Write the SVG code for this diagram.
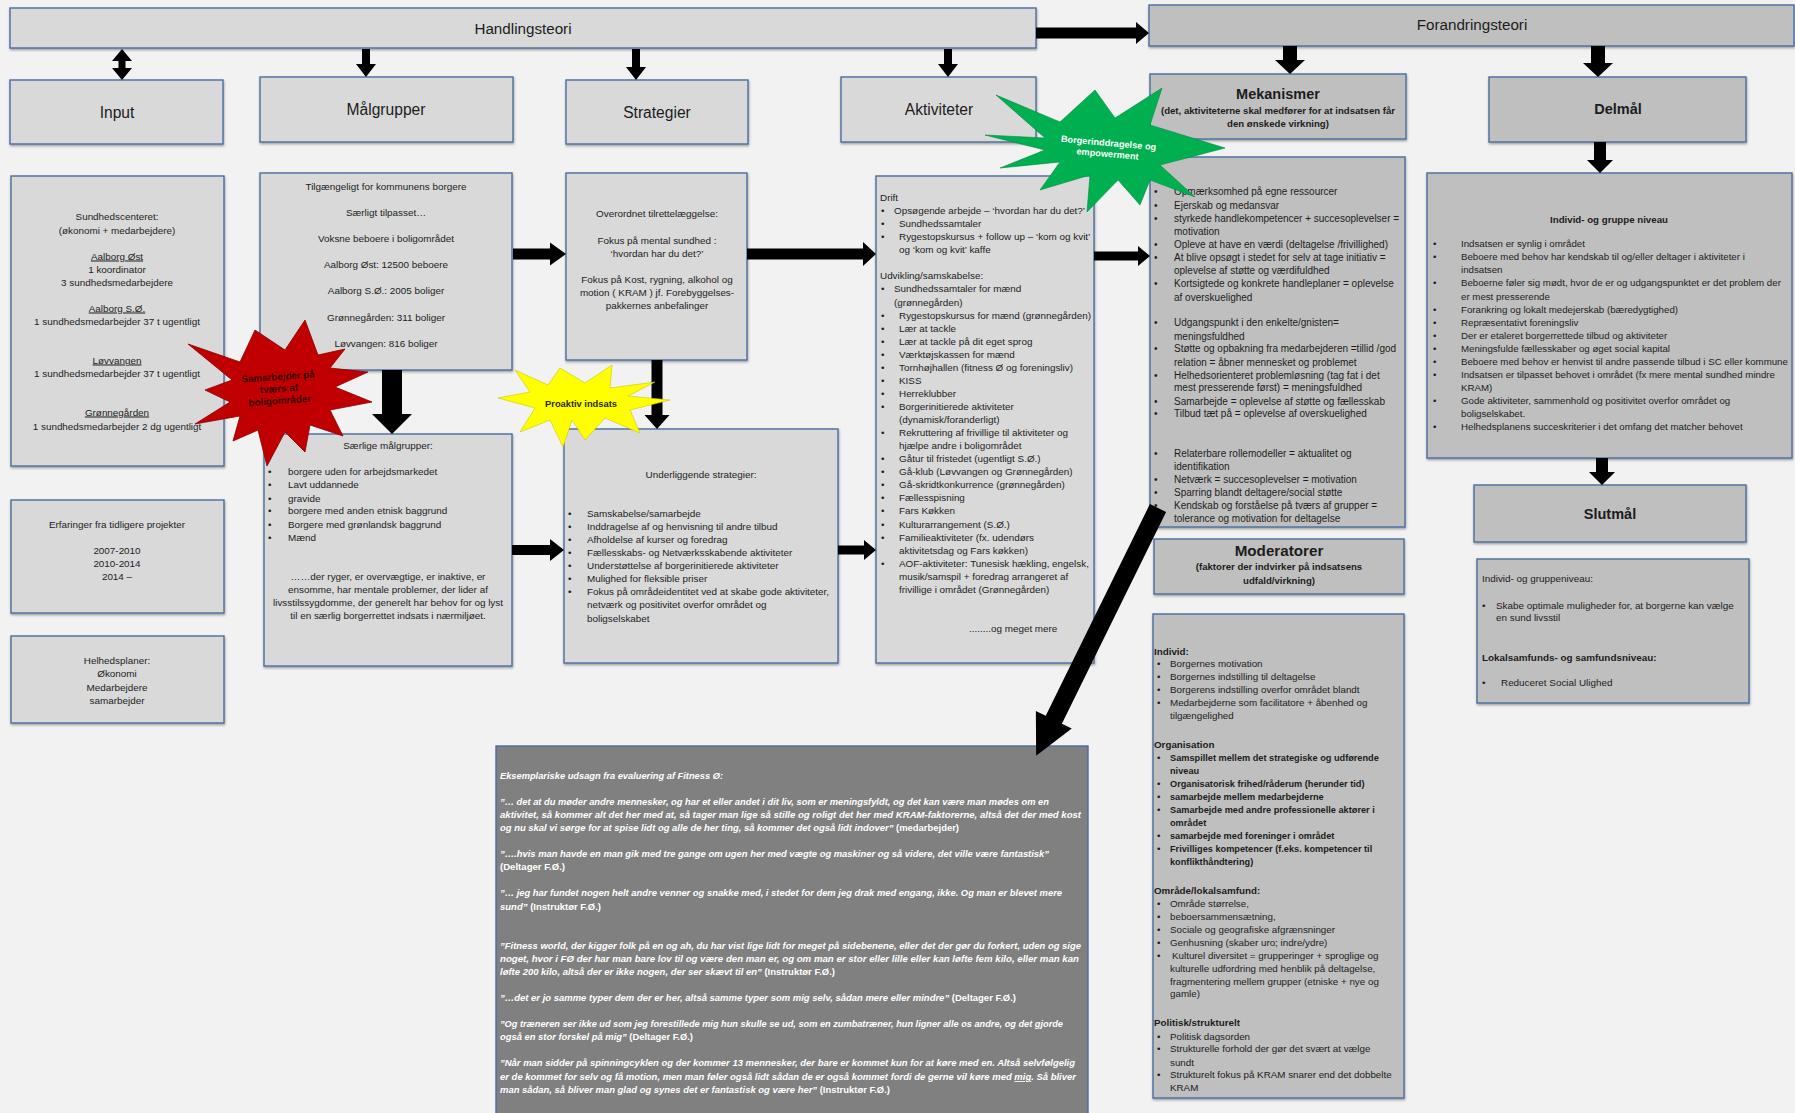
<svg xmlns="http://www.w3.org/2000/svg" width="1795" height="1113" viewBox="0 0 1795 1113">
<defs>
<filter id="sh" x="-5%" y="-5%" width="110%" height="115%"><feDropShadow dx="0.5" dy="1.5" stdDeviation="0.8" flood-color="#000" flood-opacity="0.35"/></filter>
</defs>
<style>
.lb{fill:#d9d9d9;stroke:#4a6d9e;stroke-width:1.4;filter:url(#sh)}
.db{fill:#bfbfbf;stroke:#4a6d9e;stroke-width:1.4;filter:url(#sh)}
.qb{fill:#808080;stroke:#4a6d9e;stroke-width:1.4}
text{font-family:"Liberation Sans",Arial,sans-serif;fill:#1c1c1c}
.t{font-size:9.9px}
#delmal-detail .t{font-size:9.7px}
#mekanismer-detail .t{font-size:10px}
#moderatorer-detail .t{font-size:9.8px}
#moderatorer-detail .bb{font-size:9.2px}
.c{text-anchor:middle}
.b{font-weight:bold}
.h{font-size:15.2px}
.lab{font-size:15.6px}
.sub{font-size:9.6px;font-weight:bold}
.u{text-decoration:underline}
.q{font-size:8.6px;font-weight:bold;font-style:italic;fill:#fff}
.qn{font-style:normal}
.ar{fill:#000}
</style>
<rect width="1795" height="1113" fill="#f2f2f2"/>

<g id="handlingsteori"><rect class="lb" x="10" y="8" width="1026" height="40"/><text class="h c" x="523" y="34">Handlingsteori</text></g>
<g id="forandringsteori"><rect class="db" x="1149" y="5" width="645" height="41"/><text class="h c" x="1472" y="30">Forandringsteori</text></g>

<g id="input"><rect class="lb" x="10" y="80" width="213" height="64"/><text class="lab c" x="117" y="118">Input</text></g>
<g id="malgrupper"><rect class="lb" x="260" y="77" width="253" height="65"/><text class="lab c" x="386" y="115">Målgrupper</text></g>
<g id="strategier"><rect class="lb" x="566" y="80" width="182" height="64"/><text class="lab c" x="657" y="118">Strategier</text></g>
<g id="aktiviteter"><rect class="lb" x="841" y="77" width="195" height="65"/><text class="lab c" x="939" y="115">Aktiviteter</text></g>
<g id="mekanismer"><rect class="db" x="1150" y="74" width="256" height="65"/><text class="c b" x="1278" y="99" style="font-size:14.5px">Mekanismer</text>
<text class="c sub" x="1278" y="114">(det, aktiviteterne skal medfører for at indsatsen får</text>
<text class="c sub" x="1278" y="127">den ønskede virkning)</text></g>
<g id="delmal"><rect class="db" x="1489" y="77" width="257" height="65"/><text class="c b" x="1618" y="114" style="font-size:14.5px">Delmål</text></g>

<g id="input-detail"><rect class="lb" x="11" y="176" width="213" height="290"/>
<text class="t c" x="117" y="219.5">Sundhedscenteret:</text>
<text class="t c" x="117" y="233.5">(økonomi + medarbejdere)</text>
<text class="t c u" x="117" y="259.5">Aalborg Øst</text>
<text class="t c" x="117" y="272.5">1 koordinator</text>
<text class="t c" x="117" y="285.5">3 sundhedsmedarbejdere</text>
<text class="t c u" x="117" y="311.5">Aalborg S.Ø.</text>
<text class="t c" x="117" y="324.5">1 sundhedsmedarbejder 37 t ugentligt</text>
<text class="t c u" x="117" y="363.5">Løvvangen</text>
<text class="t c" x="117" y="376.5">1 sundhedsmedarbejder 37 t ugentligt</text>
<text class="t c u" x="117" y="415.5">Grønnegården</text>
<text class="t c" x="117" y="429.5">1 sundhedsmedarbejder 2 dg ugentligt</text>
</g>
<g id="erfaringer"><rect class="lb" x="11" y="500" width="213" height="113"/>
<text class="t c" x="117" y="527.5">Erfaringer fra tidligere projekter</text>
<text class="t c" x="117" y="553.5">2007-2010</text>
<text class="t c" x="117" y="566.5">2010-2014</text>
<text class="t c" x="117" y="579.5">2014 –</text>
</g>
<g id="helhedsplaner"><rect class="lb" x="11" y="636" width="213" height="87"/>
<text class="t c" x="117" y="663.5">Helhedsplaner:</text>
<text class="t c" x="117" y="677">Økonomi</text>
<text class="t c" x="117" y="690.5">Medarbejdere</text>
<text class="t c" x="117" y="703.5">samarbejder</text>
</g>

<g id="malgrupper-detail"><rect class="lb" x="260" y="173" width="252" height="197"/>
<text class="t c" x="386" y="190">Tilgængeligt for kommunens borgere</text>
<text class="t c" x="386" y="216">Særligt tilpasset…</text>
<text class="t c" x="386" y="242">Voksne beboere i boligområdet</text>
<text class="t c" x="386" y="268">Aalborg Øst: 12500 beboere</text>
<text class="t c" x="386" y="294">Aalborg S.Ø.: 2005 boliger</text>
<text class="t c" x="386" y="321">Grønnegården: 311 boliger</text>
<text class="t c" x="386" y="347">Løvvangen: 816 boliger</text>
</g>
<g id="saerlige-malgrupper"><rect class="lb" x="264" y="434" width="248" height="232"/>
<text class="t c" x="388" y="449">Særlige målgrupper:</text>
<text class="t" x="268" y="475">•</text><text class="t" x="288" y="475">borgere uden for arbejdsmarkedet</text>
<text class="t" x="268" y="488">•</text><text class="t" x="288" y="488">Lavt uddannede</text>
<text class="t" x="268" y="502">•</text><text class="t" x="288" y="502">gravide</text>
<text class="t" x="268" y="514">•</text><text class="t" x="288" y="514">borgere med anden etnisk baggrund</text>
<text class="t" x="268" y="528">•</text><text class="t" x="288" y="528">Borgere med grønlandsk baggrund</text>
<text class="t" x="268" y="541">•</text><text class="t" x="288" y="541">Mænd</text>
<text class="t c" x="388" y="580">……der ryger, er overvægtige, er inaktive, er</text>
<text class="t c" x="388" y="593">ensomme, har mentale problemer, der lider af</text>
<text class="t c" x="388" y="606">livsstilssygdomme, der generelt har behov for og lyst</text>
<text class="t c" x="388" y="619">til en særlig borgerrettet indsats i nærmiljøet.</text>
</g>

<g id="strategier-detail"><rect class="lb" x="566" y="173" width="181" height="187"/>
<text class="t c" x="657" y="217">Overordnet tilrettelæggelse:</text>
<text class="t c" x="657" y="244">Fokus på mental sundhed :</text>
<text class="t c" x="657" y="257">‘hvordan har du det?’</text>
<text class="t c" x="657" y="283">Fokus på Kost, rygning, alkohol og</text>
<text class="t c" x="657" y="296">motion ( KRAM ) jf. Forebyggelses-</text>
<text class="t c" x="657" y="309">pakkernes anbefalinger</text>
</g>
<g id="underliggende-strategier"><rect class="lb" x="564" y="429" width="274" height="234"/>
<text class="t c" x="701" y="478">Underliggende strategier:</text>
<text class="t" x="568" y="517">•</text><text class="t" x="587" y="517">Samskabelse/samarbejde</text>
<text class="t" x="568" y="530">•</text><text class="t" x="587" y="530">Inddragelse af og henvisning til andre tilbud</text>
<text class="t" x="568" y="543">•</text><text class="t" x="587" y="543">Afholdelse af kurser og foredrag</text>
<text class="t" x="568" y="556">•</text><text class="t" x="587" y="556">Fællesskabs- og Netværksskabende aktiviteter</text>
<text class="t" x="568" y="569">•</text><text class="t" x="587" y="569">Understøttelse af borgerinitierede aktiviteter</text>
<text class="t" x="568" y="582">•</text><text class="t" x="587" y="582">Mulighed for fleksible priser</text>
<text class="t" x="568" y="595">•</text><text class="t" x="587" y="595">Fokus på områdeidentitet ved at skabe gode aktiviteter,</text>
<text class="t" x="587" y="608">netværk og positivitet overfor området og</text>
<text class="t" x="587" y="622">boligselskabet</text>
</g>

<g id="aktiviteter-detail"><rect class="lb" x="876" y="176" width="218" height="487"/>
<text class="t" x="880" y="201">Drift</text>
<text class="t" x="881" y="214">•</text><text class="t" x="894" y="214">Opsøgende arbejde – ‘hvordan har du det?’</text>
<text class="t" x="881" y="227">•</text><text class="t" x="899" y="227">Sundhedssamtaler</text>
<text class="t" x="881" y="240">•</text><text class="t" x="899" y="240">Rygestopskursus + follow up – ‘kom og kvit’</text>
<text class="t" x="899" y="253">og ‘kom og kvit’ kaffe</text>
<text class="t" x="880" y="279">Udvikling/samskabelse:</text>
<text class="t" x="881" y="292">•</text><text class="t" x="894" y="292">Sundhedssamtaler for mænd</text>
<text class="t" x="894" y="306">(grønnegården)</text>
<text class="t" x="881" y="319">•</text><text class="t" x="899" y="319">Rygestopskursus for mænd (grønnegården)</text>
<text class="t" x="881" y="332">•</text><text class="t" x="899" y="332">Lær at tackle</text>
<text class="t" x="881" y="345">•</text><text class="t" x="899" y="345">Lær at tackle på dit eget sprog</text>
<text class="t" x="881" y="358">•</text><text class="t" x="899" y="358">Værktøjskassen for mænd</text>
<text class="t" x="881" y="371">•</text><text class="t" x="899" y="371">Tornhøjhallen (fitness Ø og foreningsliv)</text>
<text class="t" x="881" y="384">•</text><text class="t" x="899" y="384">KISS</text>
<text class="t" x="881" y="397">•</text><text class="t" x="899" y="397">Herreklubber</text>
<text class="t" x="881" y="410">•</text><text class="t" x="899" y="410">Borgerinitierede aktiviteter</text>
<text class="t" x="899" y="423">(dynamisk/foranderligt)</text>
<text class="t" x="881" y="436">•</text><text class="t" x="899" y="436">Rekruttering af frivillige til aktiviteter og</text>
<text class="t" x="899" y="449">hjælpe andre i boligområdet</text>
<text class="t" x="881" y="462">•</text><text class="t" x="899" y="462">Gåtur til fristedet (ugentligt S.Ø.)</text>
<text class="t" x="881" y="475">•</text><text class="t" x="899" y="475">Gå-klub (Løvvangen og Grønnegården)</text>
<text class="t" x="881" y="488">•</text><text class="t" x="899" y="488">Gå-skridtkonkurrence (grønnegården)</text>
<text class="t" x="881" y="501">•</text><text class="t" x="899" y="501">Fællesspisning</text>
<text class="t" x="881" y="514">•</text><text class="t" x="899" y="514">Fars Køkken</text>
<text class="t" x="881" y="528">•</text><text class="t" x="899" y="528">Kulturarrangement (S.Ø.)</text>
<text class="t" x="881" y="541">•</text><text class="t" x="899" y="541">Familieaktiviteter (fx. udendørs</text>
<text class="t" x="899" y="554">aktivitetsdag og Fars køkken)</text>
<text class="t" x="881" y="567">•</text><text class="t" x="899" y="567">AOF-aktiviteter: Tunesisk hækling, engelsk,</text>
<text class="t" x="899" y="580">musik/samspil + foredrag arrangeret af</text>
<text class="t" x="899" y="593">frivillige i området (Grønnegården)</text>
<text class="t" x="969" y="632">........og meget mere</text>
</g>

<g id="mekanismer-detail"><rect class="db" x="1150" y="157" width="255" height="370"/>
<text class="t" x="1154" y="195">•</text><text class="t" x="1174" y="195">Opmærksomhed på egne ressourcer</text>
<text class="t" x="1154" y="209">•</text><text class="t" x="1174" y="209">Ejerskab og medansvar</text>
<text class="t" x="1154" y="222">•</text><text class="t" x="1174" y="222">styrkede handlekompetencer + succesoplevelser =</text>
<text class="t" x="1174" y="235">motivation</text>
<text class="t" x="1154" y="248">•</text><text class="t" x="1174" y="248">Opleve at have en værdi (deltagelse /frivillighed)</text>
<text class="t" x="1154" y="261">•</text><text class="t" x="1174" y="261">At blive opsøgt i stedet for selv at tage initiativ =</text>
<text class="t" x="1174" y="274">oplevelse af støtte og værdifuldhed</text>
<text class="t" x="1154" y="287">•</text><text class="t" x="1174" y="287">Kortsigtede og konkrete handleplaner = oplevelse</text>
<text class="t" x="1174" y="301">af overskuelighed</text>
<text class="t" x="1154" y="326">•</text><text class="t" x="1174" y="326">Udgangspunkt i den enkelte/gnisten=</text>
<text class="t" x="1174" y="340">meningsfuldhed</text>
<text class="t" x="1154" y="352">•</text><text class="t" x="1174" y="352">Støtte og opbakning fra medarbejderen =tillid /god</text>
<text class="t" x="1174" y="366">relation = åbner mennesket og problemet</text>
<text class="t" x="1154" y="379">•</text><text class="t" x="1174" y="379">Helhedsorienteret problemløsning (tag fat i det</text>
<text class="t" x="1174" y="391">mest presserende først) = meningsfuldhed</text>
<text class="t" x="1154" y="405">•</text><text class="t" x="1174" y="405">Samarbejde = oplevelse af støtte og fællesskab</text>
<text class="t" x="1154" y="417">•</text><text class="t" x="1174" y="417">Tilbud tæt på = oplevelse af overskuelighed</text>
<text class="t" x="1154" y="457">•</text><text class="t" x="1174" y="457">Relaterbare rollemodeller = aktualitet og</text>
<text class="t" x="1174" y="470">identifikation</text>
<text class="t" x="1154" y="483">•</text><text class="t" x="1174" y="483">Netværk = succesoplevelser = motivation</text>
<text class="t" x="1154" y="496">•</text><text class="t" x="1174" y="496">Sparring blandt deltagere/social støtte</text>
<text class="t" x="1154" y="509">•</text><text class="t" x="1174" y="509">Kendskab og forståelse på tværs af grupper =</text>
<text class="t" x="1174" y="522">tolerance og motivation for deltagelse</text>
</g>

<g id="moderatorer"><rect class="db" x="1154" y="539" width="250" height="55"/>
<text class="c b" x="1279" y="556" style="font-size:15.2px">Moderatorer</text>
<text class="c sub" x="1279" y="570">(faktorer der indvirker på indsatsens</text>
<text class="c sub" x="1279" y="584">udfald/virkning)</text>
</g>
<g id="moderatorer-detail"><rect class="db" x="1153" y="614" width="251" height="484"/>
<text class="t b" x="1154" y="655">Individ:</text>
<text class="t" x="1157" y="667">•</text><text class="t" x="1170" y="667">Borgernes motivation</text>
<text class="t" x="1157" y="680">•</text><text class="t" x="1170" y="680">Borgernes indstilling til deltagelse</text>
<text class="t" x="1157" y="693">•</text><text class="t" x="1170" y="693">Borgerens indstilling overfor området blandt</text>
<text class="t" x="1157" y="706">•</text><text class="t" x="1170" y="706">Medarbejderne som facilitatore + åbenhed og</text>
<text class="t" x="1170" y="719">tilgængelighed</text>
<text class="t b" x="1154" y="748">Organisation</text>
<text class="t" x="1157" y="761">•</text><text class="t b bb" x="1170" y="761">Samspillet mellem det strategiske og udførende</text>
<text class="t b bb" x="1170" y="774">niveau</text>
<text class="t" x="1157" y="787">•</text><text class="t b bb" x="1170" y="787">Organisatorisk frihed/råderum (herunder tid)</text>
<text class="t" x="1157" y="800">•</text><text class="t b bb" x="1170" y="800">samarbejde mellem medarbejderne</text>
<text class="t" x="1157" y="813">•</text><text class="t b bb" x="1170" y="813">Samarbejde med andre professionelle aktører i</text>
<text class="t b bb" x="1170" y="826">området</text>
<text class="t" x="1157" y="839">•</text><text class="t b bb" x="1170" y="839">samarbejde  med foreninger i området</text>
<text class="t" x="1157" y="852">•</text><text class="t b bb" x="1170" y="852">Frivilliges kompetencer (f.eks. kompetencer til</text>
<text class="t b bb" x="1170" y="865">konflikthåndtering)</text>
<text class="t b" x="1154" y="894">Område/lokalsamfund:</text>
<text class="t" x="1157" y="907">•</text><text class="t" x="1170" y="907">Område størrelse,</text>
<text class="t" x="1157" y="920">•</text><text class="t" x="1170" y="920">beboersammensætning,</text>
<text class="t" x="1157" y="933">•</text><text class="t" x="1170" y="933">Sociale og geografiske afgrænsninger</text>
<text class="t" x="1157" y="946">•</text><text class="t" x="1170" y="946">Genhusning (skaber uro; indre/ydre)</text>
<text class="t" x="1157" y="959">•</text><text class="t" x="1172" y="959">Kulturel diversitet = grupperinger + sproglige og</text>
<text class="t" x="1170" y="972">kulturelle udfordring med henblik på deltagelse,</text>
<text class="t" x="1170" y="985">fragmentering mellem grupper (etniske + nye og</text>
<text class="t" x="1170" y="997">gamle)</text>
<text class="t b" x="1154" y="1026">Politisk/strukturelt</text>
<text class="t" x="1157" y="1040">•</text><text class="t" x="1170" y="1040">Politisk dagsorden</text>
<text class="t" x="1157" y="1052">•</text><text class="t" x="1170" y="1052">Strukturelle forhold der gør det svært at vælge</text>
<text class="t" x="1170" y="1066">sundt</text>
<text class="t" x="1157" y="1078">•</text><text class="t" x="1170" y="1078">Strukturelt fokus på KRAM snarer end det dobbelte</text>
<text class="t" x="1170" y="1091">KRAM</text>
</g>

<g id="delmal-detail"><rect class="db" x="1427" y="173" width="365" height="285"/>
<text class="t c b" x="1609" y="223">Individ- og gruppe niveau</text>
<text class="t" x="1433" y="247">•</text><text class="t" x="1461" y="247">Indsatsen er synlig i området</text>
<text class="t" x="1433" y="260">•</text><text class="t" x="1461" y="260">Beboere med behov har kendskab til og/eller deltager i aktiviteter i</text>
<text class="t" x="1461" y="273">indsatsen</text>
<text class="t" x="1433" y="286">•</text><text class="t" x="1461" y="286">Beboerne føler sig mødt, hvor de er og udgangspunktet er det problem der</text>
<text class="t" x="1461" y="300">er mest presserende</text>
<text class="t" x="1433" y="313">•</text><text class="t" x="1461" y="313">Forankring og lokalt medejerskab (bæredygtighed)</text>
<text class="t" x="1433" y="326">•</text><text class="t" x="1461" y="326">Repræsentativt foreningsliv</text>
<text class="t" x="1433" y="339">•</text><text class="t" x="1461" y="339">Der er etaleret borgerrettede tilbud og aktiviteter</text>
<text class="t" x="1433" y="352">•</text><text class="t" x="1461" y="352">Meningsfulde fællesskaber og øget social kapital</text>
<text class="t" x="1433" y="365">•</text><text class="t" x="1461" y="365">Beboere med behov er henvist til andre passende tilbud i SC eller kommune</text>
<text class="t" x="1433" y="378">•</text><text class="t" x="1461" y="378">Indsatsen er tilpasset behovet i området (fx mere mental sundhed mindre</text>
<text class="t" x="1461" y="391">KRAM)</text>
<text class="t" x="1433" y="404">•</text><text class="t" x="1461" y="404">Gode aktiviteter, sammenhold og positivitet overfor området og</text>
<text class="t" x="1461" y="417">boligselskabet.</text>
<text class="t" x="1433" y="430">•</text><text class="t" x="1461" y="430">Helhedsplanens succeskriterier i det omfang det matcher behovet</text>
</g>

<g id="slutmal"><rect class="db" x="1474" y="485" width="272" height="57"/><text class="c b" x="1610" y="519" style="font-size:14.5px">Slutmål</text></g>
<g id="slutmal-detail"><rect class="db" x="1477" y="559" width="272" height="144"/>
<text class="t" x="1482" y="582">Individ- og gruppeniveau:</text>
<text class="t" x="1482" y="609">•</text><text class="t" x="1496" y="609">Skabe optimale muligheder for, at borgerne kan vælge</text>
<text class="t" x="1496" y="621">en sund livsstil</text>
<text class="t b" x="1482" y="661">Lokalsamfunds- og samfundsniveau:</text>
<text class="t" x="1482" y="686">•</text><text class="t" x="1501" y="686">Reduceret Social Ulighed</text>
</g>

<g id="udsagn"><rect class="qb" x="496" y="746" width="592" height="380"/>
<text class="q" x="500" y="779" textLength="223" lengthAdjust="spacingAndGlyphs">Eksemplariske udsagn fra evaluering af Fitness Ø:</text>
<text class="q" x="500" y="805" textLength="549" lengthAdjust="spacingAndGlyphs">”… det at du møder andre mennesker, og har et eller andet i dit liv, som er meningsfyldt, og det kan være man mødes om en</text>
<text class="q" x="500" y="818" textLength="581" lengthAdjust="spacingAndGlyphs">aktivitet, så kommer alt det her med at, så tager man lige så stille og roligt det her med KRAM-faktorerne, altså det der med kost</text>
<text class="q" x="500" y="831" textLength="459" lengthAdjust="spacingAndGlyphs">og nu skal vi sørge for at spise lidt og alle de her ting, så kommer det også lidt indover” <tspan class="qn">(medarbejder)</tspan></text>
<text class="q" x="500" y="857" textLength="549" lengthAdjust="spacingAndGlyphs">”….hvis man havde en man gik med tre gange om ugen her med vægte og maskiner og så videre, det ville være fantastisk”</text>
<text class="q qn" x="500" y="870" textLength="65" lengthAdjust="spacingAndGlyphs">(Deltager F.Ø.)</text>
<text class="q" x="500" y="896" textLength="562" lengthAdjust="spacingAndGlyphs">”… jeg har fundet nogen helt andre venner og snakke med, i stedet for dem jeg drak med engang, ikke. Og man er blevet mere</text>
<text class="q" x="500" y="910" textLength="101" lengthAdjust="spacingAndGlyphs">sund” <tspan class="qn">(Instruktør F.Ø.)</tspan></text>
<text class="q" x="500" y="949" textLength="581" lengthAdjust="spacingAndGlyphs">”Fitness world, der kigger folk på en og ah, du har vist lige lidt for meget på sidebenene, eller det der gør du forkert, uden og sige</text>
<text class="q" x="500" y="962" textLength="579" lengthAdjust="spacingAndGlyphs">noget, hvor i FØ der har man bare lov til og være den man er, og om man er stor eller lille eller kan løfte fem kilo, eller man kan</text>
<text class="q" x="500" y="975" textLength="335" lengthAdjust="spacingAndGlyphs">løfte 200 kilo, altså der er ikke nogen, der ser skævt til en” <tspan class="qn">(Instruktør F.Ø.)</tspan></text>
<text class="q" x="500" y="1001" textLength="516" lengthAdjust="spacingAndGlyphs">”…det er jo samme typer dem der er her, altså samme typer som mig selv, sådan mere eller mindre” <tspan class="qn">(Deltager F.Ø.)</tspan></text>
<text class="q" x="500" y="1027" textLength="563" lengthAdjust="spacingAndGlyphs">”Og træneren ser ikke ud som jeg forestillede mig hun skulle se ud, som en zumbatræner, hun ligner alle os andre, og det gjorde</text>
<text class="q" x="500" y="1040" textLength="193" lengthAdjust="spacingAndGlyphs">også en stor forskel på mig” <tspan class="qn">(Deltager F.Ø.)</tspan></text>
<text class="q" x="500" y="1066" textLength="575" lengthAdjust="spacingAndGlyphs">”Når man sidder på spinningcyklen og der kommer 13 mennesker, der bare er kommet kun for at køre med en. Altså selvfølgelig</text>
<text class="q" x="500" y="1080" textLength="576" lengthAdjust="spacingAndGlyphs">er de kommet for selv og få motion, men man føler også lidt sådan de er også kommet fordi de gerne vil køre med <tspan class="u">mig</tspan>. Så bliver</text>
<text class="q" x="500" y="1093" textLength="390" lengthAdjust="spacingAndGlyphs">man sådan, så bliver man glad og synes det er fantastisk og være her” <tspan class="qn">(Instruktør F.Ø.)</tspan></text>
</g>

<g id="connectors">
<polygon class="ar" points="122,49 132,61 125.5,61 125.5,68 132,68 122,80 112,68 118.5,68 118.5,61 112,61"/>
<polygon class="ar" points="362,49 370,49 370,64 376,64 366,77 356,64 362,64"/>
<polygon class="ar" points="632,49 640,49 640,67 646,67 636,80 626,67 632,67"/>
<polygon class="ar" points="944,49 952,49 952,64 958,64 948,77 938,64 944,64"/>
<polygon class="ar" points="1283,46 1297,46 1297,60 1305,60 1290,74 1275,60 1283,60"/>
<polygon class="ar" points="1591,46 1605,46 1605,63 1613,63 1598,77 1583,63 1591,63"/>
<polygon class="ar" points="1594,142 1606,142 1606,160 1613,160 1600,173 1587,160 1594,160"/>
<polygon class="ar" points="1596,458 1608,458 1608,472 1615,472 1602,485 1589,472 1596,472"/>
<polygon class="ar" points="1036,27.5 1136,27.5 1136,22 1149,33 1136,44 1136,38.5 1036,38.5"/>
<polygon class="ar" points="513,248.5 550,248.5 550,242.5 566,254 550,265.5 550,259.5 513,259.5"/>
<polygon class="ar" points="747,248.5 863,248.5 863,242 876,254 863,266 863,259.5 747,259.5"/>
<polygon class="ar" points="1094,251.5 1138,251.5 1138,246 1150,256 1138,266 1138,260.5 1094,260.5"/>
<polygon class="ar" points="512,545 550,545 550,539 564,550 550,561 550,555 512,555"/>
<polygon class="ar" points="838,545.5 864,545.5 864,540 876,550 864,560 864,554.5 838,554.5"/>
<polygon class="ar" points="382,370 402,370 402,414 412,414 392,434 372,414 382,414"/>
<polygon class="ar" points="651.5,360 662.5,360 662.5,415 669.5,415 657,429 644.5,415 651.5,415"/>
<polygon class="ar" transform="translate(1158,508) rotate(116.2)" points="0,-9 236,-9 236,-20 276,0 236,20 236,9 0,9"/>
</g>

<g id="star-samarbejder">
<polygon fill="#c00000" stroke="#8a0000" stroke-width="0.8" points="188,344 240,362 255,330 285,350 305,320 318,355 345,349 330,368 368,372 335,387 372,402 330,410 343,436 310,425 305,452 285,432 267,466 258,430 233,441 240,416 195,424 230,402 205,390 232,380"/>
<g transform="rotate(-4 279 390)">
<text class="c b" x="279" y="380" style="font-size:9.8px;fill:#3a0000">Samarbejder på</text>
<text class="c b" x="279" y="392" style="font-size:9.8px;fill:#3a0000">tværs af</text>
<text class="c b" x="279" y="404" style="font-size:9.8px;fill:#3a0000">boligområder</text>
</g>
</g>
<g id="star-proaktiv">
<polygon fill="#ffff00" stroke="#c8c800" stroke-width="0.6" points="498,398 530,392 515,370 548,385 560,368 585,383 612,365 610,388 655,382 628,396 670,400 630,410 640,433 605,418 585,440 572,420 563,447 550,420 520,432 535,408"/>
<text class="c b" x="581" y="407" style="font-size:9.3px;fill:#2a2a00">Proaktiv indsats</text>
</g>
<g id="star-borgerinddragelse">
<polygon fill="#00b050" stroke="#008a3e" stroke-width="0.6" points="985,135 1045,138 996,95 1060,122 1095,90 1115,118 1162,88 1150,125 1225,148 1160,165 1195,197 1150,180 1140,205 1118,180 1087,212 1090,175 1040,190 1060,162 1000,168 1045,150"/>
<g transform="rotate(5 1108 149)">
<text class="c b" x="1108" y="146" style="font-size:9.2px;fill:#fff">Borgerinddragelse og</text>
<text class="c b" x="1108" y="157" style="font-size:9.2px;fill:#fff">empowerment</text>
</g>
</g>
</svg>
